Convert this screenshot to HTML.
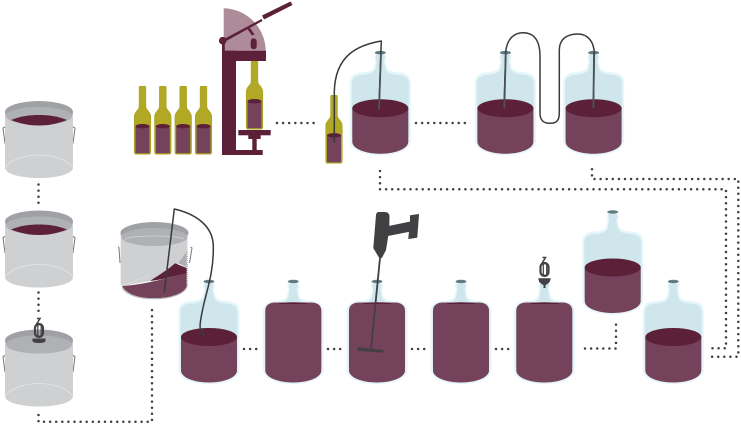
<!DOCTYPE html>
<html><head><meta charset="utf-8"><style>html,body{margin:0;padding:0;background:#fff;width:741px;height:425px;overflow:hidden}svg{display:block}</style></head><body>
<svg width="741" height="425" viewBox="0 0 741 425" xmlns="http://www.w3.org/2000/svg">
<defs>
<g id="glass">
<path d="M-6 3C-6 6-5 7-5 9C-5 11-6 11-6 13C-6 17-10 19-18 19.500C-27 20-30.500 24-30.500 31V88C-30.500 97-17 102.500 0 102.500S30.500 97 30.500 88V31C30.500 24 27 20 18 19.500C10 19 6 17 6 13C6 11 5 11 5 9C5 7 6 6 6 3Z" fill="#e5f6fb"/>
<path d="M-4.500 2C-4.500 6-3.500 7-3.500 9C-3.500 11-4.500 11-4.500 13C-4.500 19-9 21.500-18 22C-25 22.500-28.500 25-28.500 31V85H28.500V31C28.500 25 25 22.500 18 22C9 21.500 4.500 19 4.500 13C4.500 11 3.500 11 3.500 9C3.500 7 4.500 6 4.500 2Z" fill="#cfe6ec"/>
<ellipse cx="0" cy="0" rx="5.500" ry="1.800" fill="#5f7c84"/>
</g>
<g id="half">
<use href="#glass"/>
<path d="M-28 55.500V89C-28 96-15 101 0 101S28 96 28 89V55.500Z" fill="#74425a"/>
<ellipse cx="0" cy="55.500" rx="28" ry="9" fill="#5c2138"/>
</g>
<g id="full">
<use href="#glass"/>
<path d="M-28 29C-28 24-24 21-18 21H18C24 21 28 24 28 29V89C28 96 15 101 0 101S-28 96-28 89Z" fill="#74425a"/>
<path d="M-14 21.500Q0 20 14 21.500V22.500H-14Z" fill="#5c2138"/>
</g>
<g id="bucket">
<path d="M-33 25L-36 26.500L-34 42" fill="none" stroke="#77787a" stroke-width="1"/>
<path d="M33 25L36 26.500L34 42" fill="none" stroke="#77787a" stroke-width="1"/>
<path d="M-34 10.500V66C-34 72.500-18 76.500 0 76.500S34 72.500 34 66V10.500Z" fill="#cfd0d2"/>
<path d="M-34 66C-28 58-14 53.500 0 53.500S28 58 34 66" fill="none" stroke="#e6e6e8" stroke-width=".7"/>
<ellipse cx="0" cy="10.500" rx="34" ry="11" fill="#a0a1a4"/>
<ellipse cx="0" cy="14.500" rx="33" ry="9" fill="#b0b1b4"/>
</g>
<path id="wineTop" d="M-28 18.500C-18 14.500-9 13.500 0 13.500S18 14.500 28 18.500C18 22.500 9 24 0 24S-18 22.500-28 18.500Z" fill="#5c2138"/>
<g id="bottle">
<path d="M-2.800 0H2.800C3.400 0 3.400 1 3.400 1V20C3.400 24 8.300 25 8.300 31V66C8.300 67.500 7.500 68 6.500 68H-6.500C-7.500 68-8.300 67.500-8.300 66V31C-8.300 25-3.400 24-3.400 20V1C-3.400 1-3.400 0-2.800 0Z" fill="#b1a826" stroke="#a39a1a" stroke-width=".5"/>
<rect x="-7" y="40" width="14" height="27" fill="#74425a"/>
<ellipse cx="0" cy="40" rx="7" ry="2.200" fill="#5c2138"/>
</g>
<g id="airlock" fill="none" stroke="#414042">
<path d="M-2 0.500H1L-.5 3L-3 7" stroke-width="1.500"/>
<rect x="-4" y="6" width="8" height="13" rx="4" stroke-width="2.200"/>
<rect x="-1.200" y="6.500" width="3.400" height="12" rx="1.700" stroke-width="1.200"/>
</g>
</defs>

<!-- dotted connectors -->
<g fill="none" stroke="#404042" stroke-width="2.500" stroke-linecap="round" stroke-dasharray="0 6.100">
<path d="M38.500 184.500V205"/>
<path d="M38.500 292.500V313"/>
<path d="M38.500 415V421.700H152V305"/>
<path d="M244 349H261"/>
<path d="M328 349H345"/>
<path d="M412 349H429"/>
<path d="M496 349H513"/>
<path d="M585 348.500H616V319"/>
<path d="M277 123H316"/>
<path d="M416 123H467"/>
<path d="M380 171V189.300H726V348.300H707"/>
<path d="M592 169.300V179H738.300V356.700H707"/>
</g>

<!-- buckets -->
<g transform="translate(39,101.500)"><use href="#bucket"/><use href="#wineTop"/></g>
<g transform="translate(39,211)"><use href="#bucket"/><use href="#wineTop"/></g>
<g transform="translate(39,330)"><use href="#bucket"/></g>
<g transform="translate(39,318)"><use href="#airlock"/><path d="M-6.500 20.500H6.500V23Q6 25 0 25T-6.500 23Z" fill="#414042"/></g>

<!-- tilted bucket -->
<path d="M118.500 246.500L119 248L120 263M190.500 247L192 248L189.500 263" fill="none" stroke="#77787a" stroke-width="1"/>
<path d="M120.700 233V285L122.300 286L150 281L178.300 264L187.500 252V233Z" fill="#cfd0d2"/>
<path d="M122.300 286C145 284.500 168 278 186.700 272.700V286C186 293 172 298.300 154 298.300S125 293 122.300 286Z" fill="#74425a"/>
<path d="M150 281C160 274.500 169 269 175 263.300L186.700 268V273C172 277 160 280 150 281Z" fill="#5c2138"/>
<path d="M178.300 263.300L186.700 251.500V267.500Z" fill="#aeafb2"/>
<path d="M122 286C122.500 294 138 298.800 154 298.800S186 294 187.300 285" fill="none" stroke="#b5b6b8" stroke-width="1"/>
<path d="M187.200 252V285" fill="none" stroke="#8a8b8d" stroke-width=".8" stroke-dasharray="1 1"/>
<path d="M122 285C133 282 143 278 150 275" fill="none" stroke="#e6e6e8" stroke-width=".6"/>
<ellipse cx="154.500" cy="233" rx="34" ry="11" fill="#a0a1a4"/>
<ellipse cx="154.500" cy="237" rx="33" ry="9" fill="#b0b1b4"/>
<path d="M125 239C135 235 175 235 184 239" fill="none" stroke="#d4d5d7" stroke-width=".7"/>

<!-- carboys -->
<use href="#half" x="380.300" y="52.700"/>
<use href="#half" x="505.400" y="52.700"/>
<use href="#half" x="593.600" y="52.700"/>
<use href="#half" x="209" y="281.500"/>
<use href="#full" x="293.300" y="281.500"/>
<use href="#full" x="377" y="281.500"/>
<use href="#full" x="461" y="281.500"/>
<use href="#full" x="544.300" y="281.500"/>
<use href="#half" x="612.700" y="212"/>
<use href="#half" x="673.300" y="281.500"/>

<!-- bottles -->
<use href="#bottle" x="142.500" y="86.200"/>
<use href="#bottle" x="162.800" y="86.200"/>
<use href="#bottle" x="183.200" y="86.200"/>
<use href="#bottle" x="203.500" y="86.200"/>
<use href="#bottle" x="334" y="95.300"/>

<!-- siphon tubes -->
<g fill="none" stroke="#3a3a3c" stroke-linecap="round" stroke-linejoin="round" stroke-width="1.500">
<path d="M379 109L381.300 41C358 45 335 55 334.300 92V142"/>
<path d="M504 109L505.700 52C507 38 515 32.700 523 32.700C535 32.700 540 42 540 56V113C540 120 543 123.300 550 123.300C557 123.300 559.300 120 559.300 113V50C559.300 39 567 34 578 34C588 34 594.300 42 594.300 54L593.300 109"/>
<path d="M164.300 292L174.300 209C196 214 213 226 213.300 246C214 280 202 300 200 326C200 331 202 334 205 336"/>
</g>
<path d="M379 109L381 53M504.300 108L505.800 53M593.400 108L594 53" stroke="#4a5356" stroke-width="1.800" fill="none"/>

<!-- corker -->
<path d="M223.700 8.300A43 43 0 0 1 265.700 50.700H223.700Z" fill="#ae8b98"/>
<g fill="#5c2138">
<rect x="222" y="50.700" width="44" height="10.300"/>
<rect x="222" y="50.700" width="14" height="104.300"/>
<rect x="222" y="41" width="2.800" height="10"/>
<rect x="222" y="150" width="40.700" height="5"/>
<rect x="238.300" y="130" width="32.400" height="5.300"/>
<rect x="248.300" y="135" width="12.400" height="4"/>
<rect x="252.300" y="138" width="4.400" height="12"/>
<rect x="250.700" y="38.300" width="6" height="11" rx="3"/>
<path d="M247.500 29L250 28L254.500 34.500L252 35.500Z"/>
<path d="M222.500 39.800L261.500 19L262.500 21L223.500 42.500Z"/>
<path d="M262 15.500L290.500 1.500L292.500 5L264 19.500Z"/>
<circle cx="222.700" cy="40.700" r="3.800"/>
</g>
<use href="#bottle" x="254.500" y="61.200"/>

<!-- drill -->
<path d="M379 212.500H385C388 212.500 389 214 389 217L388.800 226.500L410.500 222V215.800L418.500 214.500L416.800 237.200L408.800 238.500L409.500 231.200L387.800 235.500L385.500 250L381.500 257.500H379.500L373.800 248L376.500 215C376.700 213.500 377.500 212.500 379 212.500Z" fill="#414042" stroke="#414042" stroke-width="1" stroke-linejoin="round"/>
<path d="M380 258L371 349" stroke="#414042" stroke-width="1.800"/>
<path d="M357.300 347.300L383.300 350V352.700L357.300 350.700Z" fill="#414042"/>

<!-- airlock on carboy -->
<g transform="translate(544.500,257)"><use href="#airlock"/><path d="M-6.200 21.300H6.200C6 25 3 27.500 1 28V31H-1V28C-3 27.500-6 25-6.200 21.300Z" fill="#414042"/></g>
</svg>
</body></html>
